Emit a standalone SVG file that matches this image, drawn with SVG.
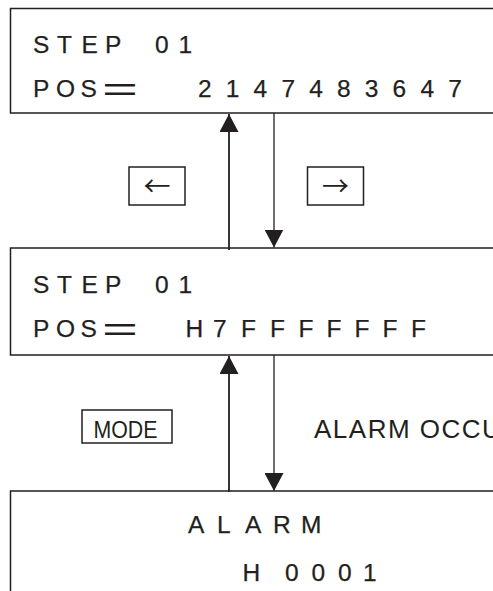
<svg xmlns="http://www.w3.org/2000/svg" width="493" height="591" viewBox="0 0 493 591">
<style>
.bg{fill:#fff}
.box{fill:none;stroke:#231f20;stroke-width:1.5}
.key{fill:#fff;stroke:#231f20;stroke-width:1.5}
.lcd{font-family:"Liberation Sans",Arial,sans-serif;font-size:24.5px;fill:#231f20;stroke:#231f20;stroke-width:0.25}
.eq{font-family:"Liberation Sans",Arial,sans-serif;font-size:34px;fill:#231f20}
.mode{font-family:"Liberation Sans",Arial,sans-serif;font-size:23px;fill:#231f20}
.evt{font-family:"Liberation Sans",Arial,sans-serif;font-size:26px;fill:#231f20;letter-spacing:1.5px}
.arw{font-family:"Noto Sans CJK JP","DejaVu Sans",sans-serif;font-size:27px;fill:#231f20}
.up{stroke:#231f20;stroke-width:1.8;fill:none}
.dn{stroke:#231f20;stroke-width:1.3;fill:none}
</style>
<defs>
<marker id="head" markerUnits="userSpaceOnUse" markerWidth="18" markerHeight="19" refX="18" refY="9.5" orient="auto">
<path d="M0,0 L18,9.5 L0,19 Z" fill="#231f20"/>
</marker>
</defs>
<rect class="bg" x="0" y="0" width="493" height="591"/>

<g id="box1">
<path class="box" d="M500 8.5 H10.5 V113 H500"/>
<text class="lcd" x="33 57 81.5 105 133 155 178.5" y="53">STEP 01</text>
<text class="lcd" x="33 56 80.5" y="97">POS</text>
<text class="eq" x="102" y="100.5" textLength="36" lengthAdjust="spacingAndGlyphs">=</text>
<text class="lcd" x="198 225.8 253.6 281.4 309.2 337 364.8 392.6 420.4 448.2" y="97">2147483647</text>
</g>

<g id="box2">
<path class="box" d="M500 248 H10.5 V355 H500"/>
<text class="lcd" x="33 57 81.5 105 133 155 178.5" y="293">STEP 01</text>
<text class="lcd" x="33 56 80.5" y="337">POS</text>
<text class="eq" x="102" y="340.5" textLength="36" lengthAdjust="spacingAndGlyphs">=</text>
<text class="lcd" x="185.5 213 241 270 298.5 326.5 354.5 382.5 411" y="337">H7FFFFFFF</text>
</g>

<g id="box3">
<path class="box" d="M500 491 H10.5 V600"/>
<text class="lcd" x="188 217 245 273 301" y="533">ALARM</text>
<text class="lcd" x="242.5 264 285 311.5 338 363" y="581">H 0001</text>
</g>

<g id="key-left">
<rect class="key" x="129" y="167" width="56" height="38"/>
<text class="arw" x="157" y="196" text-anchor="middle">←</text>
</g>

<g id="key-right">
<rect class="key" x="307.5" y="167" width="56" height="38"/>
<text class="arw" x="335.5" y="196" text-anchor="middle">→</text>
</g>

<g id="key-mode">
<rect class="key" x="82" y="410" width="90" height="33"/>
<text class="mode" x="93.5" y="437.5" textLength="64" lengthAdjust="spacingAndGlyphs">MODE</text>
</g>

<g id="label-alarm">
<text class="evt" x="314" y="438">ALARM OCCU</text>
</g>

<g id="connectors">
<path class="up" d="M229 250 V114" marker-end="url(#head)"/>
<path class="dn" d="M274 113 V247.5" marker-end="url(#head)"/>
<path class="up" d="M229 492 V356" marker-end="url(#head)"/>
<path class="dn" d="M274 355 V491" marker-end="url(#head)"/>
</g>
</svg>
